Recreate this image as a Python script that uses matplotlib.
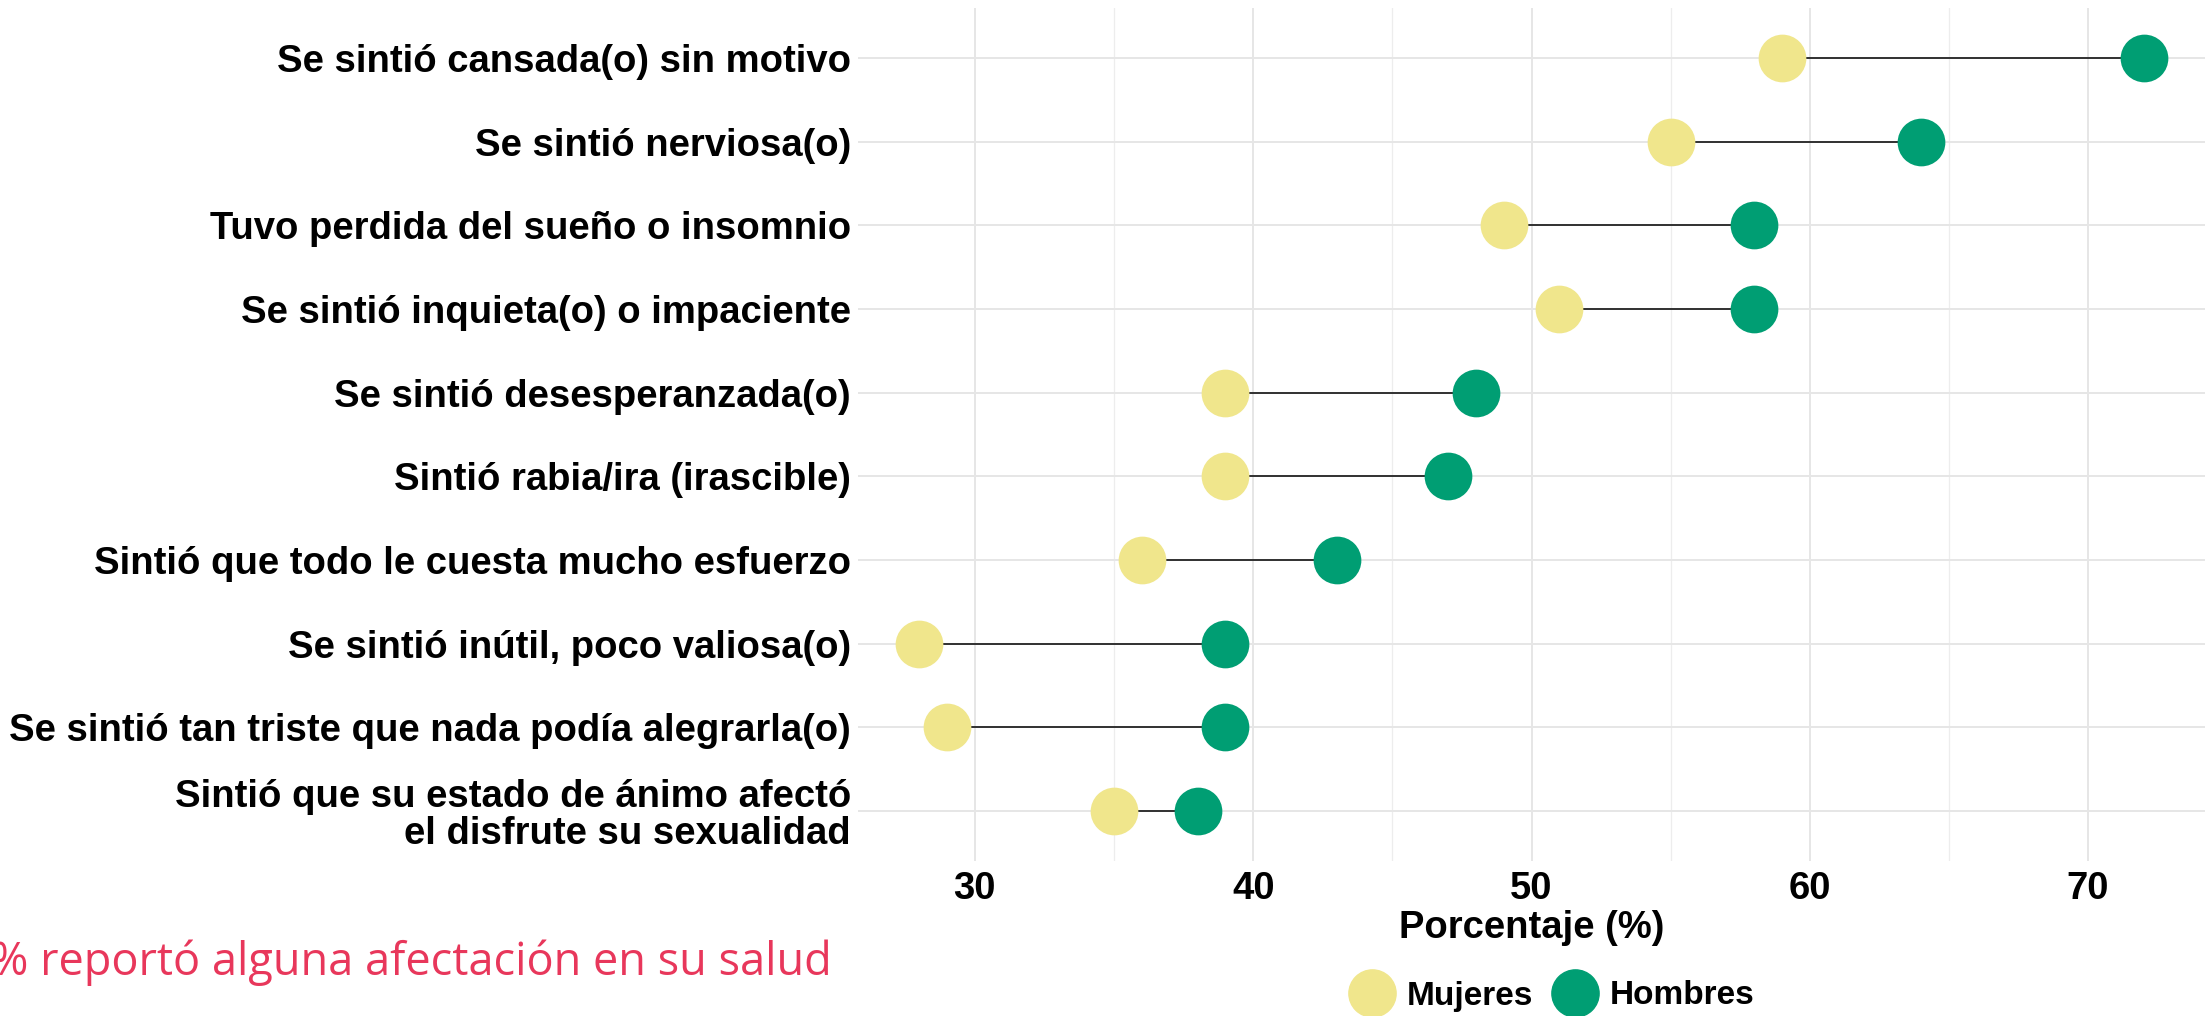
import numpy as np
import matplotlib.pyplot as plt
from matplotlib.lines import Line2D

# Datos (porcentaje por sexo)
sintomas = [
    "Se sintió cansada(o) sin motivo",
    "Se sintió nerviosa(o)",
    "Tuvo perdida del sueño o insomnio",
    "Se sintió inquieta(o) o impaciente",
    "Se sintió desesperanzada(o)",
    "Sintió rabia/ira (irascible)",
    "Sintió que todo le cuesta mucho esfuerzo",
    "Se sintió inútil, poco valiosa(o)",
    "Se sintió tan triste que nada podía alegrarla(o)",
    "Sintió que su estado de ánimo afectó\nel disfrute su sexualidad",
]
mujeres = [59, 55, 49, 51, 39, 39, 36, 28, 29, 35]
hombres = [72, 64, 58, 58, 48, 47, 43, 39, 39, 38]
ticks_x = [30, 40, 50, 60, 70]

col_muj = "#F0E68C"
col_hom = "#009E73"

plt.rcParams['font.family'] = ['Liberation Sans', 'DejaVu Sans']

fig = plt.figure(figsize=(22.05, 10.16), dpi=100)
ax = fig.add_axes([858 / 2205, 155 / 1016, 1 - 858 / 2205, 1000 / 1016 - 155 / 1016 + 8 / 1016])

y = np.arange(len(sintomas))[::-1]

ax.hlines(y, mujeres, hombres, color="black", lw=1.1, zorder=2)
ax.scatter(mujeres, y, s=1180, color=col_muj, zorder=3, linewidths=0)
ax.scatter(hombres, y, s=1180, color=col_hom, zorder=3, linewidths=0)

lo, hi = min(mujeres), max(hombres)
pad = (hi - lo) * 0.05
ax.set_xlim(lo - pad, hi + pad)
ax.set_ylim(-0.6, len(sintomas) - 0.4)

ax.set_xticks(ticks_x)
ax.set_xticks([35, 45, 55, 65], minor=True)
ax.set_yticks(y)
ax.set_yticklabels(sintomas, fontsize=27.5, fontweight="bold", linespacing=1.05)
ax.tick_params(axis="x", labelsize=27.5, length=0, pad=7)
ax.tick_params(axis="x", which="minor", length=0)
ax.tick_params(axis="y", length=0, pad=5)
for lab in ax.get_xticklabels():
    lab.set_fontweight("bold")

ax.grid(True, which="major", color="#E6E6E6", lw=1.4)
ax.grid(True, which="minor", axis="x", color="#EDEDED", lw=0.9)
ax.set_axisbelow(True)
for s in ax.spines.values():
    s.set_visible(False)

ax.set_xlabel("Porcentaje (%)", fontsize=27.5, fontweight="bold", labelpad=2)

handles = [
    Line2D([], [], marker="o", ls="", markersize=34, color=col_muj, label="Mujeres"),
    Line2D([], [], marker="o", ls="", markersize=34, color=col_hom, label="Hombres"),
]
leg = fig.legend(handles=handles, loc="center", ncol=2, frameon=False,
                 bbox_to_anchor=(1554 / 2205, 1 - 996 / 1016),
                 prop={"weight": "bold", "size": 24}, handletextpad=0.5,
                 columnspacing=0.7, handlelength=1.1)

fig.text(-0.004, 1 - 963 / 1016, "% reportó alguna afectación en su salud",
         fontsize=32.5, color="#E8375B", family="Open Sans", va="center", ha="left")

fig.savefig("out.png", dpi=100)
